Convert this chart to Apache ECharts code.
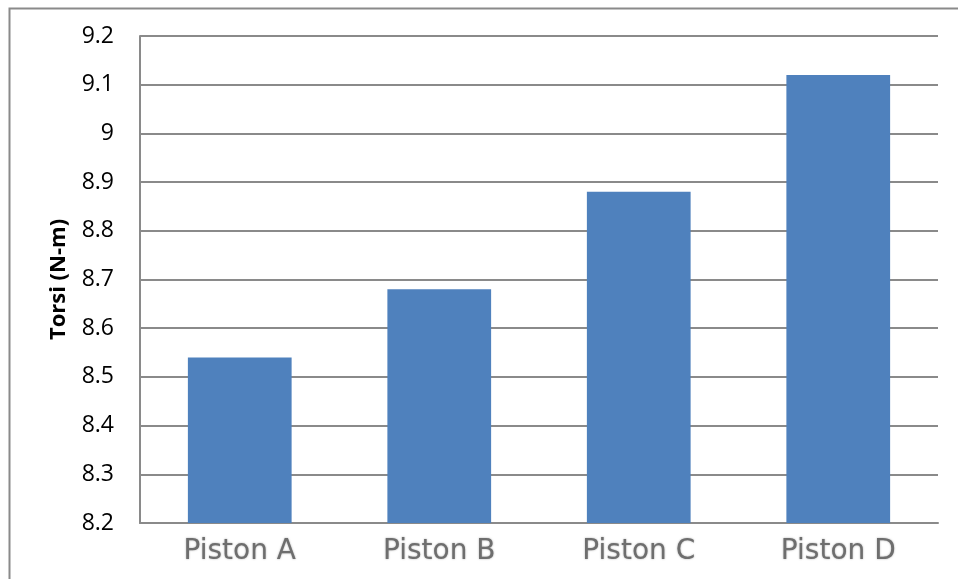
<!DOCTYPE html>
<html><head><meta charset="utf-8">
<script src="https://cdn.jsdelivr.net/npm/echarts@6/dist/echarts.min.js"></script>
<style>html,body{margin:0;padding:0;background:#fff}#c{width:958px;height:579px}</style>
</head><body><div id="c"></div>
<script>
const categories = ['Piston A', 'Piston B', 'Piston C', 'Piston D'];
const torsi = [8.54, 8.68, 8.88, 9.12];
const yLabel = 'Torsi (N-m)';

const chart = echarts.init(document.getElementById('c'), null, {renderer: 'canvas'});
chart.setOption({
  animation: false,
  backgroundColor: '#ffffff',
  graphic: [{
    type: 'rect', left: 7, top: 6, silent: true,
    shape: {width: 960, height: 590},
    style: {fill: 'none', stroke: '#8a8a8a', lineWidth: 2}
  }],
  grid: {left: 140, right: 20, top: 36, bottom: 56, containLabel: false},
  xAxis: {
    type: 'category', data: categories,
    axisLine: {show: true, lineStyle: {color: '#8a8a8a', width: 2}},
    axisTick: {show: false},
    axisLabel: {color: '#6e6e6e', fontSize: 28, fontFamily: 'DejaVu Sans', margin: 15,
      textShadowColor: 'rgba(110,110,110,0.6)', textShadowBlur: 2}
  },
  yAxis: {
    type: 'value', min: 8.2, max: 9.2, interval: 0.1,
    name: yLabel, nameLocation: 'middle', nameGap: 70, nameRotate: 90,
    nameTextStyle: {color: '#000', fontSize: 22, fontWeight: 'bold', fontFamily: 'Open Sans'},
    axisLine: {show: true, lineStyle: {color: '#8a8a8a', width: 2}},
    axisTick: {show: false},
    axisLabel: {color: '#000', fontSize: 23, fontFamily: 'Open Sans', margin: 26,
      formatter: v => String(Math.round(v * 10) / 10)},
    splitLine: {show: true, lineStyle: {color: '#8a8a8a', width: 2}}
  },
  series: [{
    type: 'bar', data: torsi, barWidth: '52%',
    itemStyle: {color: '#4F81BD'}
  }]
});
</script></body></html>
